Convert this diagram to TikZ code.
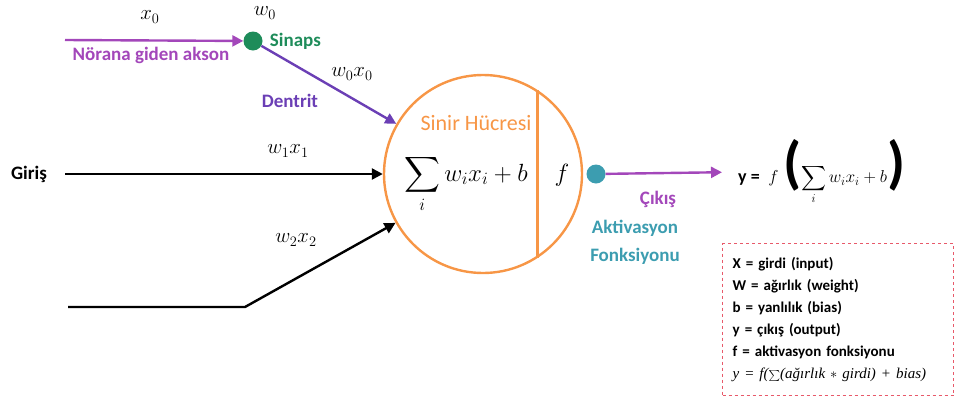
\documentclass[tikz,border=0pt]{standalone}
\usepackage{exscale}
\usepackage{fontspec}
\setmainfont{Carlito}
\newfontfamily\eqfont{Liberation Serif}
\usetikzlibrary{arrows.meta, positioning}
\definecolor{cAxon}{HTML}{A347BA}
\definecolor{cDend}{HTML}{6B3FB5}
\definecolor{cSyn} {HTML}{1E8C5A}
\definecolor{cTeal}{HTML}{3C9DB0}
\definecolor{cCell}{HTML}{F79646}
\definecolor{cBox} {HTML}{E8596A}

\begin{document}
\begin{tikzpicture}[x=1pt, y=-1pt,
      lbl/.style  = {font=\fontsize{19}{28}\selectfont\bfseries, inner sep=1pt},
      mlbl/.style = {font=\fontsize{22}{24}\selectfont, inner sep=1pt},
      ar/.style   = {-{Triangle[length=11pt, width=11pt]}, line width=2.4pt},
      dot/.style  = {circle, inner sep=0pt, minimum size=19pt} ]
    \useasboundingbox (0,0) rectangle (955,397);

    % neuron
    \node[circle, draw=cCell, line width=2.4pt, minimum size=198pt] (cell) at (483,174) {};
    \draw[cCell, line width=2.4pt] (cell.57) -- (cell.-57);
    \node[font=\fontsize{22}{24}\selectfont, text=cCell, inner sep=1pt] (title) at (476,123) {Sinir Hücresi};
    \node[font=\fontsize{25}{27}\selectfont, inner sep=1pt] (sum) at (466,184) {$\displaystyle\sum_i w_i x_i + b$};
    \node[font=\fontsize{28}{30}\selectfont] (fn) at (562,175) {$f$};

    % axon and synapse
    \coordinate (axs) at (65,40);
    \node[dot, fill=cSyn] (syn) at (253,41) {};
    \draw[ar, cAxon] (axs) -- (syn);
    \draw[ar, cDend] (syn) -- (cell);
    \node[mlbl] (x0) at (150,17) {$x_0$};
    \node[mlbl] (w0) at (265,13) {$w_0$};
    \node[lbl, text=cAxon] (axlbl) at (151,55) {Nörana giden akson};
    \node[lbl, text=cSyn, right=6pt of syn] (synlbl) {Sinaps};
    \node[mlbl] (w0x0) at (352,74) {$w_0x_0$};
    \node[lbl, text=cDend] (dlbl) at (290,101) {Dentrit};

    % inputs
    \node[lbl] (giris) at (29,174) {Giriş};
    \coordinate (in1) at (65,174);
    \draw[ar] (in1) -- (cell);
    \node[mlbl] (w1x1) at (288,151) {$w_1x_1$};
    \coordinate (in2) at (68,307);
    \coordinate (bend) at (245,307);
    \draw[ar] (in2) -- (bend) -- (cell);
    \node[mlbl] (w2x2) at (296,240) {$w_2x_2$};

    % output
    \node[dot, fill=cTeal] (out) at (596,174) {};
    \node[anchor=west, inner sep=0pt] (yeq) at (738,172)
      {{\fontsize{18}{20}\selectfont\bfseries y = }\ \ {\fontsize{16}{18}\selectfont$f$}\ \ {\fontsize{58}{58}\selectfont\bfseries(}{\fontsize{16.5}{18}\selectfont$\displaystyle\sum_i w_ix_i+b$}{\fontsize{58}{58}\selectfont\bfseries)}};
    \draw[ar, cAxon, shorten >=16pt] (out) -- (yeq.west);
    \node[lbl, text=cAxon] (outlbl) at (658,199) {Çıkış};
    \node[lbl, text=cTeal, align=center] (act) at (635,242) {Aktivasyon\\Fonksiyonu};

    % legend
    \node[draw=cBox, dashed, line width=1.3pt, anchor=north west, minimum width=231pt,
          minimum height=152pt, text width=211pt, inner xsep=10pt, align=left,
          font=\fontsize{15}{22}\selectfont\bfseries] (legend) at (722,243)
      {X = girdi (input)\\
       W = ağırlık (weight)\\
       b = yanlılık (bias)\\
       y = çıkış (output)\\
       f = aktivasyon fonksiyonu\\
       {\mdseries\eqfont\itshape y = f({\fontsize{11}{11}\selectfont$\sum$}(ağırlık $*$ girdi) + bias)}};
  \end{tikzpicture}
\end{document}
